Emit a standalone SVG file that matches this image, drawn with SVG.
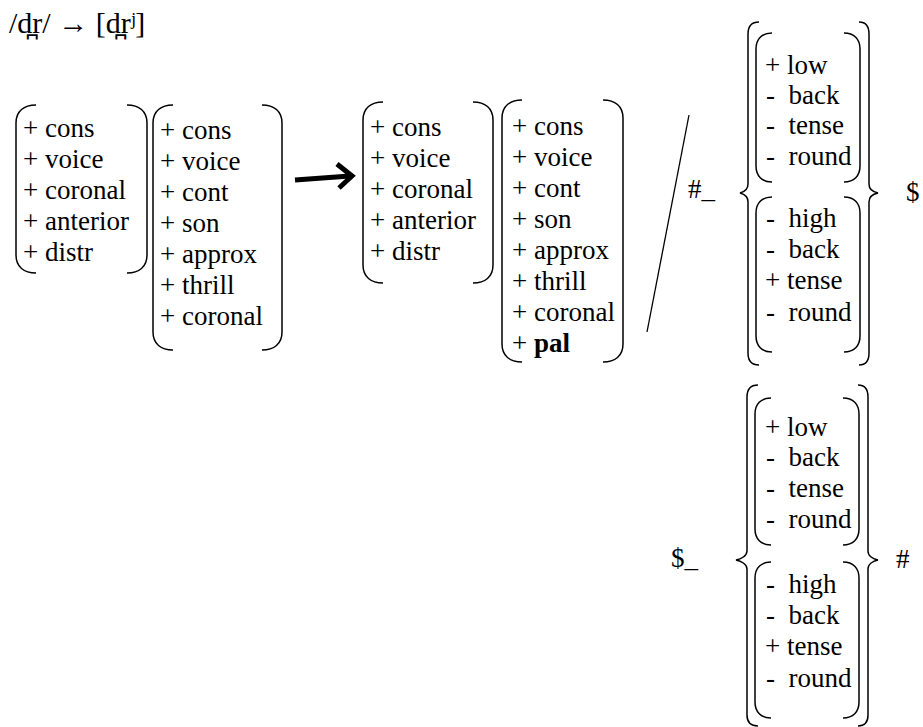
<svg xmlns="http://www.w3.org/2000/svg" width="923" height="727" viewBox="0 0 923 727">
<style>
text{font-family:'Liberation Serif','Times New Roman',serif;font-size:27px;fill:#000}
.p{fill:none;stroke:#000;stroke-width:1.5}
.b{font-weight:bold}
.t{font-size:30px}
</style>
<rect width="923" height="727" fill="#fff"/>
<text id="title" class="t" x="9" y="33">/d̪r/ → [d̪rʲ]</text>

<g id="m1">
<path class="p" d="M36,105 C24,105 16,111 16,123 L16,255 C16,267 24,273 36,273"/>
<path class="p" d="M127,105 C139,105 147,111 147,123 L147,255 C147,267 139,273 127,273"/>
<text x="23" y="137">+ cons</text>
<text x="23" y="168">+ voice</text>
<text x="23" y="199">+ coronal</text>
<text x="23" y="230">+ anterior</text>
<text x="23" y="261">+ distr</text>
</g>
<g id="m2">
<path class="p" d="M173,105 C161,105 153,111 153,123 L153,332 C153,344 161,350 173,350"/>
<path class="p" d="M262,105 C274,105 282,111 282,123 L282,332 C282,344 274,350 262,350"/>
<text x="160" y="139">+ cons</text>
<text x="160" y="170">+ voice</text>
<text x="160" y="201">+ cont</text>
<text x="160" y="232">+ son</text>
<text x="160" y="263">+ approx</text>
<text x="160" y="294">+ thrill</text>
<text x="160" y="325">+ coronal</text>
</g>
<g id="m3">
<path class="p" d="M383,102 C371,102 363,108 363,120 L363,265 C363,277 371,283 383,283"/>
<path class="p" d="M473,102 C485,102 493,108 493,120 L493,265 C493,277 485,283 473,283"/>
<text x="370" y="136">+ cons</text>
<text x="370" y="167">+ voice</text>
<text x="370" y="198">+ coronal</text>
<text x="370" y="229">+ anterior</text>
<text x="370" y="260">+ distr</text>
</g>
<g id="m4">
<path class="p" d="M522,100 C510,100 502,106 502,118 L502,344 C502,356 510,362 522,362"/>
<path class="p" d="M603,100 C615,100 623,106 623,118 L623,344 C623,356 615,362 603,362"/>
<text x="512" y="135">+ cons</text>
<text x="512" y="166">+ voice</text>
<text x="512" y="197">+ cont</text>
<text x="512" y="228">+ son</text>
<text x="512" y="259">+ approx</text>
<text x="512" y="290">+ thrill</text>
<text x="512" y="321">+ coronal</text>
<text x="512" y="352">+ <tspan class="b">pal</tspan></text>
</g>

<g id="env1">
<text x="688" y="198">#_</text>
<path class="p" d="M759,22 C752,22 748,26 748,34 L748,184 C748,189 744,192 740,193 C744,194 748,197 748,202 L748,353 C748,361 752,365 759,365"/>
<path class="p" d="M859,22 C866,22 869,26 869,34 L869,184 C869,189 873,192 878,193 C873,194 869,197 869,202 L869,353 C869,361 866,365 859,365"/>
<text x="906" y="201">$</text>
</g>
<g id="v1a">
<path class="p" d="M772,33 C762,33 756,39 756,49 L756,166 C756,176 762,182 772,182"/>
<path class="p" d="M844,33 C854,33 860,39 860,49 L860,166 C860,176 854,182 844,182"/>
<text x="765" y="74">+ low</text>
<text x="766" y="104" xml:space="preserve">-  back</text>
<text x="766" y="134" xml:space="preserve">-  tense</text>
<text x="766" y="165" xml:space="preserve">-  round</text>
</g>
<g id="v1b">
<path class="p" d="M772,197 C762,197 756,203 756,213 L756,336 C756,346 762,352 772,352"/>
<path class="p" d="M844,197 C854,197 860,203 860,213 L860,336 C860,346 854,352 844,352"/>
<text x="766" y="227" xml:space="preserve">-  high</text>
<text x="766" y="258" xml:space="preserve">-  back</text>
<text x="765" y="289">+ tense</text>
<text x="766" y="321" xml:space="preserve">-  round</text>
</g>

<g id="env2">
<text x="671" y="567">$_</text>
<path class="p" d="M758,385 C751,385 747,389 747,397 L747,551 C747,556 741,559 736,560 C741,561 747,564 747,569 L747,715 C747,722 751,726 758,726"/>
<path class="p" d="M858,385 C865,385 868,389 868,397 L868,551 C868,556 873,559 878,560 C873,561 868,564 868,569 L868,715 C868,722 865,726 858,726"/>
<text x="896" y="568">#</text>
</g>
<g id="v2a">
<path class="p" d="M771,398 C761,398 755,404 755,414 L755,529 C755,539 761,545 771,545"/>
<path class="p" d="M843,398 C853,398 859,404 859,414 L859,529 C859,539 853,545 843,545"/>
<text x="765" y="436">+ low</text>
<text x="766" y="466" xml:space="preserve">-  back</text>
<text x="766" y="497" xml:space="preserve">-  tense</text>
<text x="766" y="528" xml:space="preserve">-  round</text>
</g>
<g id="v2b">
<path class="p" d="M771,562 C761,562 755,568 755,578 L755,702 C755,712 761,718 771,718"/>
<path class="p" d="M843,562 C853,562 859,568 859,578 L859,702 C859,712 853,718 843,718"/>
<text x="766" y="593" xml:space="preserve">-  high</text>
<text x="766" y="624" xml:space="preserve">-  back</text>
<text x="765" y="655">+ tense</text>
<text x="766" y="687" xml:space="preserve">-  round</text>
</g>

<g id="connectors">
<path d="M295,180 L350,176" fill="none" stroke="#000" stroke-width="5"/>
<path d="M337,164 L352,176 L339,188" fill="none" stroke="#000" stroke-width="5" stroke-linejoin="miter"/>
<line x1="689" y1="115" x2="647" y2="332" stroke="#000" stroke-width="1.3"/>
</g>
</svg>
